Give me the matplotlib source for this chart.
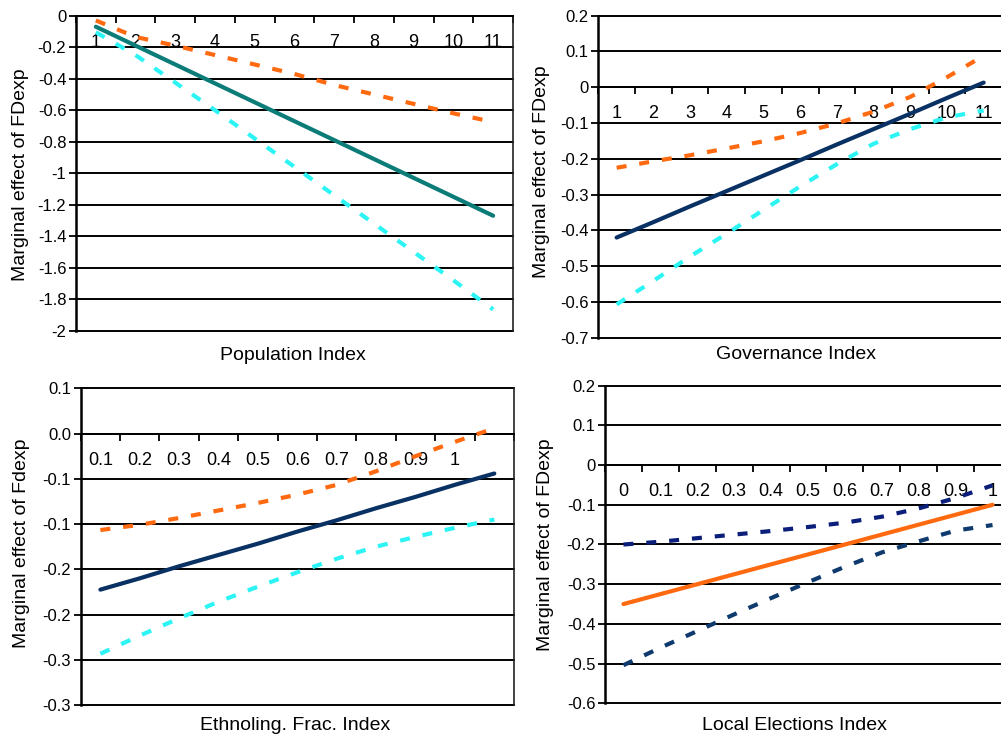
import matplotlib
matplotlib.use('Agg')
import matplotlib.pyplot as plt
import numpy as np

plt.rcParams['font.family'] = ['Liberation Sans', 'DejaVu Sans']

W, H = 1001, 737

# ---------------- data ----------------
# Panel A: Population Index
pop_categories = ['1', '2', '3', '4', '5', '6', '7', '8', '9', '10', '11']
pop_effect = [-0.07, -0.19, -0.31, -0.43, -0.55, -0.67, -0.79, -0.91, -1.03, -1.15, -1.27]
pop_upper = [-0.03, -0.135, -0.19, -0.25, -0.31, -0.37, -0.44, -0.50, -0.56, -0.62, -0.675]
pop_lower = [-0.105, -0.25, -0.425, -0.60, -0.78, -0.96, -1.14, -1.32, -1.50, -1.68, -1.865]
pop_yticks = [0, -0.2, -0.4, -0.6, -0.8, -1.0, -1.2, -1.4, -1.6, -1.8, -2.0]
pop_yticklabels = ['0', '-0.2', '-0.4', '-0.6', '-0.8', '-1', '-1.2', '-1.4', '-1.6', '-1.8', '-2']

# Panel B: Governance Index
gov_categories = ['1', '2', '3', '4', '5', '6', '7', '8', '9', '10', '11']
gov_effect = [-0.42, -0.377, -0.333, -0.29, -0.247, -0.204, -0.16, -0.117, -0.074, -0.03, 0.013]
gov_upper = [-0.225, -0.207, -0.190, -0.171, -0.151, -0.128, -0.101, -0.068, -0.027, 0.028, 0.088]
gov_lower = [-0.607, -0.541, -0.473, -0.409, -0.343, -0.277, -0.215, -0.158, -0.117, -0.084, -0.065]
gov_yticks = [0.2, 0.1, 0.0, -0.1, -0.2, -0.3, -0.4, -0.5, -0.6, -0.7]
gov_yticklabels = ['0.2', '0.1', '0', '-0.1', '-0.2', '-0.3', '-0.4', '-0.5', '-0.6', '-0.7']

# Panel C: Ethnolinguistic Fractionalization Index
eth_categories = ['0.1', '0.2', '0.3', '0.4', '0.5', '0.6', '0.7', '0.8', '0.9', '1', '']
eth_effect = [-0.197, -0.182, -0.166, -0.151, -0.136, -0.120, -0.105, -0.089, -0.074, -0.058, -0.043]
eth_upper = [-0.118, -0.111, -0.102, -0.092, -0.082, -0.071, -0.058, -0.040, -0.020, -0.001, 0.017]
eth_lower = [-0.282, -0.258, -0.235, -0.213, -0.193, -0.174, -0.156, -0.140, -0.127, -0.115, -0.104]
eth_yticks = [0.07, 0.01, -0.05, -0.11, -0.17, -0.23, -0.29, -0.35]
eth_yticklabels = ['0.1', '0.0', '-0.1', '-0.1', '-0.2', '-0.2', '-0.3', '-0.3']

# Panel D: Local Elections Index
loc_categories = ['0', '0.1', '0.2', '0.3', '0.4', '0.5', '0.6', '0.7', '0.8', '0.9', '1']
loc_effect = [-0.35, -0.325, -0.30, -0.275, -0.25, -0.225, -0.20, -0.175, -0.15, -0.125, -0.10]
loc_upper = [-0.200, -0.193, -0.184, -0.175, -0.166, -0.156, -0.145, -0.130, -0.109, -0.083, -0.051]
loc_lower = [-0.504, -0.460, -0.418, -0.376, -0.335, -0.295, -0.256, -0.220, -0.192, -0.165, -0.151]
loc_yticks = [0.2, 0.1, 0.0, -0.1, -0.2, -0.3, -0.4, -0.5, -0.6]
loc_yticklabels = ['0.2', '0.1', '0', '-0.1', '-0.2', '-0.3', '-0.4', '-0.5', '-0.6']

# ---------------- styling ----------------
ORANGE = '#FF6A10'
CYAN = '#2CF4F4'
TEAL = '#0C7C78'
NAVY = '#0A3163'
NAVY2 = '#0B1F7A'
NAVY3 = '#0E3A6E'
DASH = (0, (2.4, 3.1))

fig = plt.figure(figsize=(W / 100, H / 100), dpi=100)
fig.patch.set_facecolor('white')


def make_axes(left, right, top, bottom):
    return fig.add_axes([left / W, 1 - bottom / H, (right - left) / W, (bottom - top) / H])


def setup(ax, categories, yticks, yticklabels, right_spine=True):
    n = len(categories)
    ax.set_xlim(0.5, n + 0.5)
    ax.set_ylim(min(yticks), max(yticks))
    for y in yticks:
        ax.axhline(y, color='black', lw=1.4, zorder=1, clip_on=False)
    ax.set_yticks(yticks)
    ax.set_yticklabels(yticklabels, fontsize=12)
    ax.tick_params(axis='y', direction='out', length=5, width=1.3, pad=2)
    # category axis crosses at the tick labelled zero
    cross = yticks[[lab.strip('-') in ('0', '0.0') for lab in yticklabels].index(True)]
    ax.spines['bottom'].set_position(('data', cross))
    ax.spines['bottom'].set_linewidth(1.4)
    ax.spines['top'].set_visible(False)
    ax.spines['left'].set_linewidth(1.8)
    ax.spines['right'].set_visible(right_spine)
    ax.spines['right'].set_linewidth(1.2)
    ax.spines['right'].set_color('#222222')
    ax.set_xticks(np.arange(0.5, n + 1.0, 1.0))
    ax.set_xticklabels([])
    ax.set_xticks(np.arange(1, n + 1), minor=True)
    ax.set_xticklabels(categories, minor=True, fontsize=13)
    ax.tick_params(axis='x', which='major', direction='out', length=5, width=1.3)
    ax.tick_params(axis='x', which='minor', length=0, pad=13)
    ax.set_facecolor('none')


def ylab(text, x, y):
    fig.text(x / W, 1 - y / H, text, rotation=90, ha='center', va='center', fontsize=14)


def xlab(text, x, y):
    fig.text(x / W, 1 - y / H, text, ha='center', va='center', fontsize=14)


# Panel A
ax1 = make_axes(76, 513, 15.7, 330.7)
setup(ax1, pop_categories, pop_yticks, pop_yticklabels)
x = np.arange(1, len(pop_categories) + 1)
ax1.plot(x, pop_upper, color=ORANGE, lw=3, ls=DASH, zorder=3)
ax1.plot(x, pop_lower, color=CYAN, lw=3, ls=DASH, zorder=3)
ax1.plot(x, pop_effect, color=TEAL, lw=3, zorder=4, solid_capstyle='round')
ylab('Marginal effect of FDexp', 20.5, 175)
xlab('Population Index', 293, 356)

# Panel B
ax2 = make_axes(598.3, 1002, 15.7, 337.7)
setup(ax2, gov_categories, gov_yticks, gov_yticklabels)
x = np.arange(1, len(gov_categories) + 1)
ax2.plot(x, gov_upper, color=ORANGE, lw=3, ls=DASH, zorder=3)
ax2.plot(x, gov_lower, color=CYAN, lw=3, ls=DASH, zorder=3)
ax2.plot(x, gov_effect, color=NAVY, lw=3, zorder=4, solid_capstyle='round')
ylab('Marginal effect of FDexp', 542, 172)
xlab('Governance Index', 796, 355)

# Panel C
ax3 = make_axes(80.7, 514, 388.3, 705)
setup(ax3, eth_categories, eth_yticks, eth_yticklabels)
x = np.arange(1, len(eth_categories) + 1)
ax3.plot(x, eth_upper, color=ORANGE, lw=3, ls=DASH, zorder=3)
ax3.plot(x, eth_lower, color=CYAN, lw=3, ls=DASH, zorder=3)
ax3.plot(x, eth_effect, color=NAVY, lw=3, zorder=4, solid_capstyle='round')
ylab('Marginal effect of Fdexp', 22, 543)
xlab('Ethnoling. Frac. Index', 295, 726)

# Panel D
ax4 = make_axes(605, 1011, 385.7, 703.3)
setup(ax4, loc_categories, loc_yticks, loc_yticklabels)
x = np.arange(1, len(loc_categories) + 1)
ax4.plot(x, loc_upper, color=NAVY2, lw=3, ls=DASH, zorder=3)
ax4.plot(x, loc_lower, color=NAVY3, lw=3, ls=DASH, zorder=3)
ax4.plot(x, loc_effect, color=ORANGE, lw=3, zorder=4, solid_capstyle='round')
ylab('Marginal effect of FDexp', 545, 545)
xlab('Local Elections Index', 794, 726)

fig.savefig('out.png', dpi=100, facecolor='white')
